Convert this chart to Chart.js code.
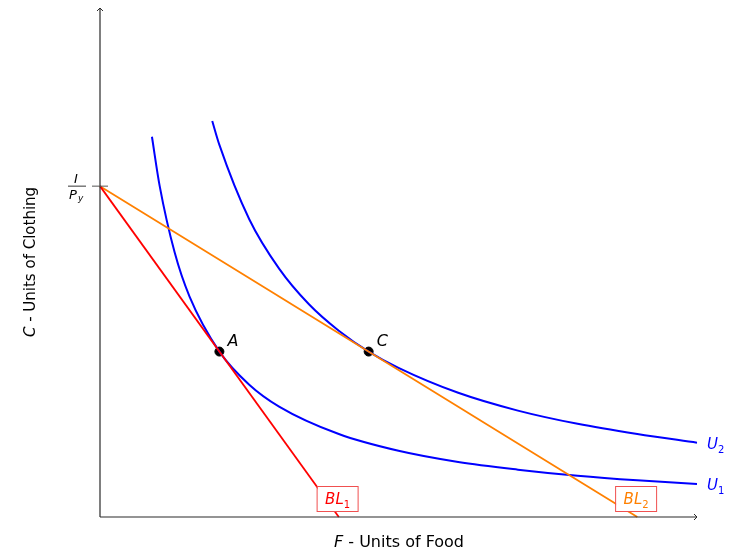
<!DOCTYPE html>
<html lang="en">
<head>
    <meta charset="UTF-8">
    <title>Food and Clothing</title>
    <script src="https://cdn.jsdelivr.net/npm/chart.js"></script>
    <style>
        html, body { margin: 0; padding: 0; background: #fff; }
        #wrap { width: 731px; height: 550px; }
    </style>
</head>
<body>
    <div id="wrap"><canvas id="chart" width="731" height="550"></canvas></div>

    <script>
        // indifference curves (F, C)
        const u1F = [0.87, 1.0, 1.25, 1.5, 2.0, 2.5, 3.0, 4.0, 5.0, 6.0, 7.0, 8.0, 9.0, 10.0];
        const u1C = [7.47, 6.5, 5.2, 4.33, 3.25, 2.6, 2.17, 1.63, 1.3, 1.08, 0.93, 0.81, 0.72, 0.65];
        const u2F = [1.88, 2.0, 2.5, 3.0, 3.5, 4.0, 4.5, 5.0, 6.0, 7.0, 8.0, 9.0, 10.0];
        const u2C = [7.78, 7.31, 5.85, 4.88, 4.18, 3.66, 3.25, 2.93, 2.44, 2.09, 1.83, 1.63, 1.46];

        // budget lines: end points
        const bl1F = [0, 4.0];
        const bl1C = [6.5, 0];
        const bl2F = [0, 9.0];
        const bl2C = [6.5, 0];

        // optimum points
        const pointNames = ['A', 'C'];
        const pointF = [2.0, 4.5];
        const pointC = [3.25, 3.25];

        const incomeTick = 6.5; // I / P_y

        const toXY = (xs, ys) => xs.map((x, i) => ({ x: x, y: ys[i] }));

        const FONT = '"DejaVu Sans", sans-serif';

        // text with a subscript, starting at x
        function subText(ctx, main, sub, x, y, size) {
            ctx.font = 'italic ' + size + 'px ' + FONT;
            ctx.fillText(main, x, y);
            const w = ctx.measureText(main).width;
            ctx.font = Math.round(size * 0.68) + 'px ' + FONT;
            ctx.fillText(sub, x + w, y + size * 0.28);
        }
        function subWidth(ctx, main, sub, size) {
            ctx.font = 'italic ' + size + 'px ' + FONT;
            const w = ctx.measureText(main).width;
            ctx.font = Math.round(size * 0.68) + 'px ' + FONT;
            return w + ctx.measureText(sub).width;
        }

        // italic letter followed by upright text, centred on cx
        function mixedTitle(ctx, letter, rest, cx, y, size) {
            ctx.font = 'italic ' + size + 'px ' + FONT;
            const lw = ctx.measureText(letter).width;
            ctx.font = size + 'px ' + FONT;
            const rw = ctx.measureText(rest).width;
            const sx = cx - (lw + rw) / 2;
            ctx.font = 'italic ' + size + 'px ' + FONT;
            ctx.fillText(letter, sx, y);
            ctx.font = size + 'px ' + FONT;
            ctx.fillText(rest, sx + lw, y);
        }

        // draws axes, arrows, tick and all the labels
        const decorPlugin = {
            id: 'decor',
            afterDatasetsDraw(chart) {
                const ctx = chart.ctx;
                const xs = chart.scales.x, ys = chart.scales.y;
                const x0 = xs.getPixelForValue(0), y0 = ys.getPixelForValue(0);
                const xEnd = xs.getPixelForValue(10), yEnd = ys.getPixelForValue(10);

                ctx.save();
                ctx.strokeStyle = '#2a2a2a';
                ctx.lineWidth = 1.2;
                ctx.beginPath();
                ctx.moveTo(x0, y0); ctx.lineTo(xEnd, y0);
                ctx.moveTo(x0, y0); ctx.lineTo(x0, yEnd);
                ctx.stroke();
                // arrow heads
                ctx.lineWidth = 1;
                ctx.beginPath();
                ctx.moveTo(xEnd - 3, y0 - 3); ctx.lineTo(xEnd, y0); ctx.lineTo(xEnd - 3, y0 + 3);
                ctx.moveTo(x0 - 3, yEnd + 3); ctx.lineTo(x0, yEnd); ctx.lineTo(x0 + 3, yEnd + 3);
                ctx.stroke();

                // I/Py tick
                const ty = ys.getPixelForValue(incomeTick);
                ctx.strokeStyle = '#555';
                ctx.beginPath();
                ctx.moveTo(x0 - 8, ty); ctx.lineTo(x0 + 8, ty);
                ctx.stroke();
                ctx.fillStyle = '#000';
                ctx.textAlign = 'left';
                ctx.textBaseline = 'alphabetic';
                ctx.font = 'italic 13px ' + FONT;
                ctx.fillText('I', 74, ty - 3);
                ctx.lineWidth = 0.8;
                ctx.strokeStyle = '#000';
                ctx.beginPath();
                ctx.moveTo(68, ty); ctx.lineTo(86, ty);
                ctx.stroke();
                ctx.fillText('P', 69, ty + 13);
                ctx.font = 'italic 9px ' + FONT;
                ctx.fillText('y', 78, ty + 15);

                // axis titles
                mixedTitle(ctx, 'F', ' - Units of Food', 399, 547, 16);
                ctx.save();
                ctx.translate(35, 262);
                ctx.rotate(-Math.PI / 2);
                mixedTitle(ctx, 'C', ' - Units of Clothing', 0, 0, 15);
                ctx.restore();

                // point names
                ctx.font = 'italic 16px ' + FONT;
                ctx.fillStyle = '#000';
                pointNames.forEach((n, i) => {
                    ctx.fillText(n, xs.getPixelForValue(pointF[i]) + 8, ys.getPixelForValue(pointC[i]) - 6);
                });

                // curve labels
                ctx.fillStyle = '#0000ff';
                subText(ctx, 'U', '2', xEnd + 10, ys.getPixelForValue(u2C[u2C.length - 1]) + 6, 15);
                subText(ctx, 'U', '1', xEnd + 10, ys.getPixelForValue(u1C[u1C.length - 1]) + 6, 15);

                // budget line boxes
                const box = (sub, fv, color) => {
                    const cx = xs.getPixelForValue(fv), cy = y0 - 18;
                    ctx.fillStyle = '#fff';
                    ctx.fillRect(cx - 20, cy - 12, 40, 24);
                    ctx.strokeStyle = '#f05050';
                    ctx.lineWidth = 1;
                    ctx.strokeRect(cx - 20.5, cy - 12.5, 41, 25);
                    ctx.fillStyle = color;
                    const w = subWidth(ctx, 'BL', sub, 15);
                    subText(ctx, 'BL', sub, cx - w / 2, cy + 5, 15);
                };
                box('1', 3.98, '#ff0000');
                box('2', 8.98, '#ff8000');

                ctx.restore();
            }
        };

        new Chart(document.getElementById('chart'), {
            type: 'scatter',
            data: {
                datasets: [
                    {
                        label: 'BL1',
                        data: toXY(bl1F, bl1C),
                        showLine: true,
                        borderColor: '#ff0000',
                        borderWidth: 1.8,
                        pointRadius: 0,
                        clip: false
                    },
                    {
                        label: 'BL2',
                        data: toXY(bl2F, bl2C),
                        showLine: true,
                        borderColor: '#ff8000',
                        borderWidth: 1.8,
                        pointRadius: 0,
                        clip: false
                    },
                    {
                        label: 'U1',
                        data: toXY(u1F, u1C),
                        showLine: true,
                        borderColor: '#0000ff',
                        borderWidth: 2,
                        pointRadius: 0,
                        cubicInterpolationMode: 'monotone',
                        clip: false
                    },
                    {
                        label: 'U2',
                        data: toXY(u2F, u2C),
                        showLine: true,
                        borderColor: '#0000ff',
                        borderWidth: 2,
                        pointRadius: 0,
                        cubicInterpolationMode: 'monotone',
                        clip: false
                    },
                    {
                        label: 'Optimum',
                        data: toXY(pointF, pointC),
                        showLine: false,
                        backgroundColor: '#000',
                        borderColor: '#000',
                        pointRadius: 4.5
                    }
                ]
            },
            options: {
                responsive: false,
                animation: false,
                layout: { padding: { left: 100, right: 34, top: 8, bottom: 33 } },
                scales: {
                    x: { type: 'linear', min: 0, max: 10, display: false },
                    y: { type: 'linear', min: 0, max: 10, display: false }
                },
                plugins: {
                    legend: { display: false },
                    tooltip: { enabled: false }
                }
            },
            plugins: [decorPlugin]
        });
    </script>
</body>
</html>
